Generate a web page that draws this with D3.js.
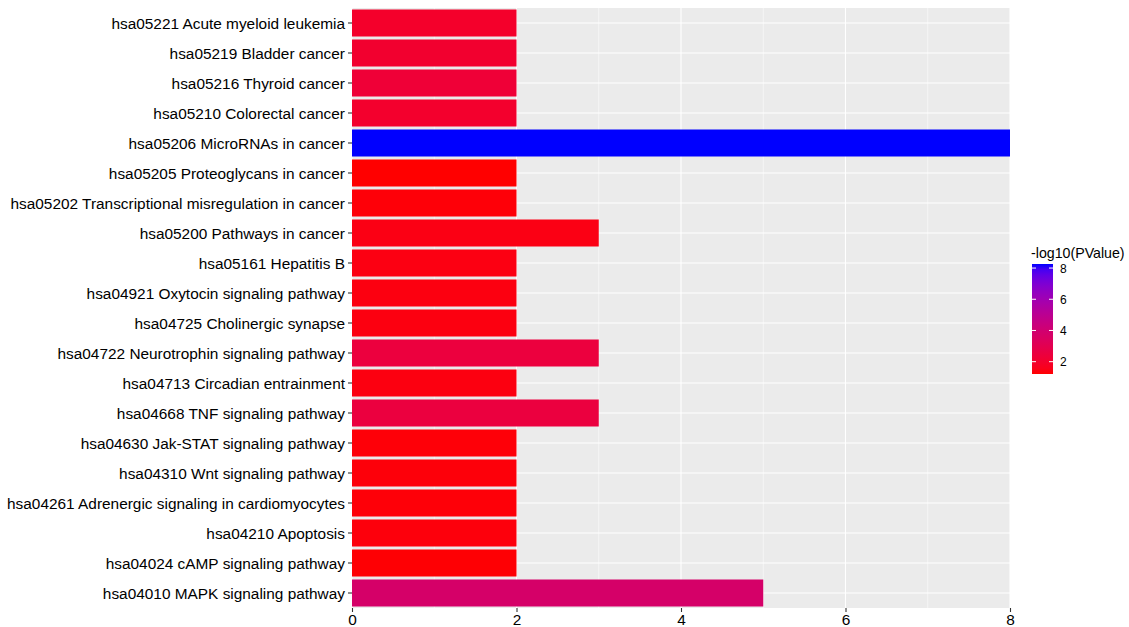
<!DOCTYPE html>
<html>
<head>
<meta charset="utf-8">
<script src="https://cdn.jsdelivr.net/npm/d3@7"></script>
<style>
  html, body { margin: 0; padding: 0; background: #fff; }
  svg text { font-family: "Liberation Sans", Arial, sans-serif; }
</style>
</head>
<body>
<svg id="chart" width="1129" height="627"></svg>
<script>
// KEGG pathway terms, top to bottom
const pathways = [
  "hsa05221 Acute myeloid leukemia",
  "hsa05219 Bladder cancer",
  "hsa05216 Thyroid cancer",
  "hsa05210 Colorectal cancer",
  "hsa05206 MicroRNAs in cancer",
  "hsa05205 Proteoglycans in cancer",
  "hsa05202 Transcriptional misregulation in cancer",
  "hsa05200 Pathways in cancer",
  "hsa05161 Hepatitis B",
  "hsa04921 Oxytocin signaling pathway",
  "hsa04725 Cholinergic synapse",
  "hsa04722 Neurotrophin signaling pathway",
  "hsa04713 Circadian entrainment",
  "hsa04668 TNF signaling pathway",
  "hsa04630 Jak-STAT signaling pathway",
  "hsa04310 Wnt signaling pathway",
  "hsa04261 Adrenergic signaling in cardiomyocytes",
  "hsa04210 Apoptosis",
  "hsa04024 cAMP signaling pathway",
  "hsa04010 MAPK signaling pathway"
];
// gene counts per pathway
const counts = [2, 2, 2, 2, 8, 2, 2, 3, 2, 2, 2, 3, 2, 3, 2, 2, 2, 2, 2, 5];
// -log10(PValue) per pathway
const logP = [1.95, 2.05, 2.25, 2.0, 8.26, 1.21, 1.3, 1.45, 1.42, 1.4, 1.4, 2.45, 1.4, 2.5, 1.3, 1.32, 1.3, 1.35, 1.26, 3.75];
const xTicks = [0, 2, 4, 6, 8];
const xMinor = [1, 3, 5, 7];
const legendTicks = [2, 4, 6, 8];
const legendTitle = "-log10(PValue)";

const svg = d3.select("#chart");
const panel = { left: 352, right: 1010, top: 8, bottom: 608 };

const x = d3.scaleLinear().domain([0, 8]).range([panel.left, panel.right]);
const yc = d3.scaleBand().domain(pathways).range([panel.top, panel.bottom]);

const colorDomain = d3.extent(logP);
const color = d3.scaleLinear().domain(colorDomain).range(["red", "blue"]).interpolate(d3.interpolateLab);

// panel background
svg.append("rect")
  .attr("x", panel.left).attr("y", panel.top)
  .attr("width", panel.right - panel.left).attr("height", panel.bottom - panel.top)
  .attr("fill", "#EBEBEB");

// grid lines
svg.append("g").selectAll("line").data(xMinor).join("line")
  .attr("x1", d => x(d)).attr("x2", d => x(d))
  .attr("y1", panel.top).attr("y2", panel.bottom)
  .attr("stroke", "#fff").attr("stroke-width", 0.55);
svg.append("g").selectAll("line").data(xTicks).join("line")
  .attr("x1", d => x(d)).attr("x2", d => x(d))
  .attr("y1", panel.top).attr("y2", panel.bottom)
  .attr("stroke", "#fff").attr("stroke-width", 1.1);
svg.append("g").selectAll("line").data(pathways).join("line")
  .attr("x1", panel.left).attr("x2", panel.right)
  .attr("y1", d => yc(d) + yc.bandwidth() / 2).attr("y2", d => yc(d) + yc.bandwidth() / 2)
  .attr("stroke", "#fff").attr("stroke-width", 1.1);

// bars
svg.append("g").selectAll("rect").data(pathways).join("rect")
  .attr("x", x(0))
  .attr("y", d => yc(d) + yc.bandwidth() * 0.05)
  .attr("width", (d, i) => x(counts[i]) - x(0))
  .attr("height", yc.bandwidth() * 0.9)
  .attr("fill", (d, i) => color(logP[i]));

// y axis
const yAxis = d3.axisLeft(yc).tickSize(4).tickPadding(3);
const gy = svg.append("g").attr("transform", `translate(${panel.left},0)`).call(yAxis);
gy.select(".domain").remove();
gy.selectAll(".tick line").attr("stroke", "#333").attr("stroke-width", 1.1);
gy.selectAll(".tick text").attr("fill", "#000").attr("font-size", 15.4)
  .attr("dy", "0.4em")
  .attr("font-family", "Liberation Sans, Arial, sans-serif");

// x axis
const xAxis = d3.axisBottom(x).tickValues(xTicks).tickFormat(d3.format("d")).tickSize(4).tickPadding(2);
const gx = svg.append("g").attr("transform", `translate(0,${panel.bottom})`).call(xAxis);
gx.select(".domain").remove();
gx.selectAll(".tick line").attr("stroke", "#333").attr("stroke-width", 1.1);
gx.selectAll(".tick text").attr("fill", "#000").attr("font-size", 15.4)
  .attr("font-family", "Liberation Sans, Arial, sans-serif");

// colour legend
const leg = { x: 1032, w: 21, top: 264, bottom: 374 };
const ly = d3.scaleLinear().domain(colorDomain).range([leg.bottom, leg.top]);
const defs = svg.append("defs");
const grad = defs.append("linearGradient").attr("id", "pgrad")
  .attr("x1", 0).attr("y1", 1).attr("x2", 0).attr("y2", 0);
d3.range(0, 1.0001, 0.05).forEach(t => {
  grad.append("stop").attr("offset", t)
    .attr("stop-color", color(colorDomain[0] + t * (colorDomain[1] - colorDomain[0])));
});
svg.append("text").attr("x", leg.x - 1).attr("y", 258)
  .attr("font-size", 14.2).attr("fill", "#000").text(legendTitle);
svg.append("rect").attr("x", leg.x).attr("y", leg.top)
  .attr("width", leg.w).attr("height", leg.bottom - leg.top)
  .attr("fill", "url(#pgrad)");
const lt = svg.append("g");
lt.selectAll("line.l").data(legendTicks).join("line").attr("class", "l")
  .attr("x1", leg.x).attr("x2", leg.x + 4)
  .attr("y1", d => ly(d)).attr("y2", d => ly(d))
  .attr("stroke", "#fff").attr("stroke-width", 1);
lt.selectAll("line.r").data(legendTicks).join("line").attr("class", "r")
  .attr("x1", leg.x + leg.w - 4).attr("x2", leg.x + leg.w)
  .attr("y1", d => ly(d)).attr("y2", d => ly(d))
  .attr("stroke", "#fff").attr("stroke-width", 1);
lt.selectAll("text").data(legendTicks).join("text")
  .attr("x", leg.x + leg.w + 7).attr("y", d => ly(d))
  .attr("dy", "0.38em").attr("font-size", 12).attr("fill", "#000")
  .text(d => d);
</script>
</body>
</html>
